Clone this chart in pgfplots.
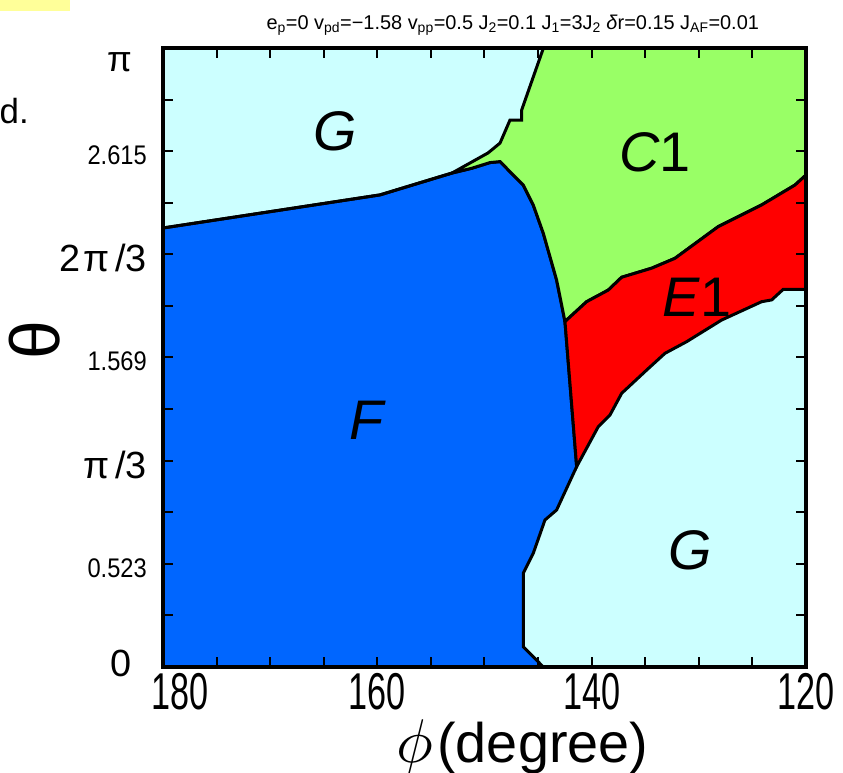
\documentclass[border=0pt]{standalone}
\usepackage{pgfplots}
\pgfplotsset{compat=1.18}
\usepackage{fontspec}
\setmainfont{Liberation Sans}
\newfontfamily\nar[FakeStretch=0.66]{Liberation Sans}
\newfontfamily\narb[FakeStretch=0.88]{Liberation Sans}
\definecolor{gcol}{HTML}{CCFFFF}
\definecolor{fcol}{HTML}{0066FF}
\definecolor{ccol}{HTML}{99FF66}
\definecolor{ecol}{HTML}{FF0000}
\definecolor{ylw}{HTML}{FFFF99}
\begin{document}
\begin{tikzpicture}
\path[use as bounding box] (0bp,0bp) rectangle (843bp,773bp);
\fill[ylw] (0bp,762bp) rectangle (70bp,773bp);
\node[anchor=base east, inner sep=0pt, font=\fontsize{35}{35}\selectfont] at (29bp,649bp) {d.};
\begin{axis}[
  at={(163bp,106bp)}, anchor=south west,
  scale only axis, width=643bp, height=619bp,
  xmin=120, xmax=180, ymin=0, ymax=3.14159,
  x dir=reverse,
  axis on top,
  axis background/.style={fill=gcol},
  axis line style={line width=3.5bp},
  tick align=inside,
  major tick length=10bp, minor tick length=10bp,
  every tick/.style={black, line width=2bp},
  every minor tick/.style={black, line width=2bp},
  xtick={120,140,160,180},
  xticklabels={120,140,160,{\hspace*{34bp}180}},
  minor xtick={125,130,135,145,150,155,165,170,175},
  xticklabel style={font=\nar\fontsize{52}{52}\selectfont, anchor=north, inner sep=0pt, yshift=-6bp},
  ytick={0,0.5236,1.0472,1.5708,2.0944,2.6180,3.14159},
  yticklabels={
    {\fontsize{38}{38}\selectfont\raisebox{-5.6bp}[0pt][0pt]{0}\hspace*{15bp}},
    {\narb\fontsize{27}{27}\selectfont 0.523},
    {\fontsize{38}{38}\selectfont π\hspace{6bp}/3},
    {\narb\fontsize{27}{27}\selectfont 1.569},
    {\fontsize{38}{38}\selectfont 2\hspace{3bp}π\hspace{6bp}/3},
    {\narb\fontsize{27}{27}\selectfont 2.615},
    {\fontsize{36}{36}\selectfont\raisebox{-19.5bp}[0pt][0pt]{π}\hspace*{15bp}}},
  minor ytick={0.2618,0.7854,1.3090,1.8326,2.3562,2.8798},
  yticklabel style={anchor=east, inner sep=0pt, xshift=-16bp, yshift=-4bp},
  ylabel={θ},
  ylabel style={at={(axis description cs:-0.199,0.528)}, anchor=center, inner sep=0pt, font=\fontsize{70}{70}\selectfont},
  xlabel={\scalebox{6.2}{$\phi$}\hspace{4bp}{\fontsize{56}{56}\selectfont(degree)}},
  xlabel style={at={(axis description cs:0.559,0)}, anchor=base, inner sep=0pt, yshift=-95bp},
  title={e\textsubscript{p}=0 v\textsubscript{pd}=−1.58 v\textsubscript{pp}=0.5 J\textsubscript{2}=0.1 J\textsubscript{1}=3J\textsubscript{2} \textit{δ}r=0.15 J\textsubscript{AF}=0.01},
  title style={at={(axis description cs:0.544,1)}, anchor=base, inner sep=0pt, yshift=13bp, font=\fontsize{20}{20}\selectfont},
]
% F region
\addplot[fill=fcol, draw=black, line width=3bp] coordinates {
(180,0) (180,2.228) (159.75,2.396) (153.03,2.507) (151.20,2.531) (149.49,2.560) (148.55,2.565)
(146.38,2.446) (145.45,2.345) (144.51,2.201) (143.27,1.964) (142.49,1.753) (141.40,1.017)
(143.27,0.797) (144.36,0.746) (145.45,0.577) (146.38,0.476) (146.38,0.103) (144.51,0)
} -- cycle;
% C1 region
\addplot[fill=ccol, draw=black, line width=3bp] coordinates {
(144.5,3.1416) (120,3.1416) (120,2.497) (121.03,2.446) (124.14,2.345) (128.19,2.235) (132.23,2.074)
(134.40,2.024) (137.20,1.978) (138.45,1.913) (140.47,1.854) (142.49,1.753) (143.27,1.964)
(144.51,2.201) (145.45,2.345) (146.38,2.446) (148.55,2.565) (149.49,2.560) (151.20,2.531)
(153.03,2.507) (149.67,2.609) (148.55,2.659) (147.62,2.776) (146.53,2.776) (146.53,2.827)
} -- cycle;
% E1 region
\addplot[fill=ecol, draw=black, line width=3bp] coordinates {
(142.49,1.753) (140.47,1.854) (138.45,1.913) (137.20,1.978) (134.40,2.024) (132.23,2.074)
(128.19,2.235) (124.14,2.345) (121.03,2.446) (120,2.497) (120,1.917) (122.12,1.917) (123.20,1.863)
(124.14,1.854) (127.87,1.761) (131.14,1.651) (133.16,1.592) (134.87,1.507) (137.20,1.389)
(138.29,1.279) (139.38,1.220) (141.40,1.017)
} -- cycle;
% G/F upper boundary line (left part)
\addplot[draw=black, line width=3bp] coordinates {(180,2.228) (159.75,2.396) (153.03,2.507)};
\node[font=\fontsize{56}{56}\selectfont\itshape] at (axis cs:163.95,2.720) {G};
\node[font=\fontsize{56}{56}\selectfont] at (axis cs:134.09,2.614) {\textit{C}1};
\node[font=\fontsize{56}{56}\selectfont] at (axis cs:130.17,1.878) {\textit{E}1};
\node[font=\fontsize{56}{56}\selectfont\itshape] at (axis cs:160.97,1.254) {F};
\node[font=\fontsize{56}{56}\selectfont\itshape] at (axis cs:130.83,0.594) {G};
\end{axis}
\end{tikzpicture}
\end{document}
